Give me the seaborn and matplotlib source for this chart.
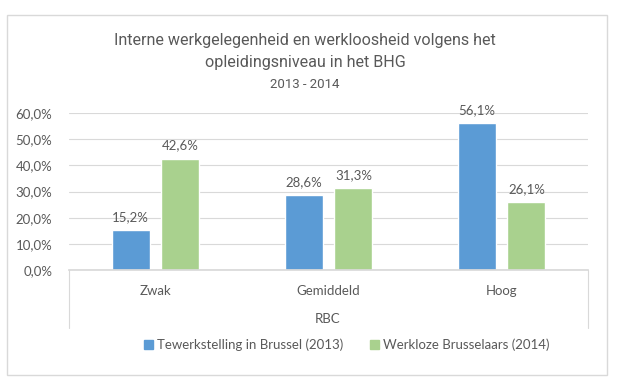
import pandas as pd
import seaborn as sns
import matplotlib.pyplot as plt
from matplotlib import font_manager
from matplotlib.ticker import FuncFormatter
from matplotlib.patches import Rectangle
from matplotlib.lines import Line2D

# data
categories = ["Zwak", "Gemiddeld", "Hoog"]
series = ["Tewerkstelling in Brussel (2013)", "Werkloze Brusselaars (2014)"]
employment_2013 = [0.152, 0.286, 0.561]
unemployed_2014 = [0.426, 0.313, 0.261]
colors = ["#5B9BD5", "#A9D18E"]

df = pd.DataFrame({
    "Opleiding": categories * 2,
    "Reeks": [series[0]] * 3 + [series[1]] * 3,
    "Aandeel": employment_2013 + unemployed_2014,
})

sns.set_theme(style="white")
plt.rcParams["font.family"] = ["Lato", "DejaVu Sans"]
txt = "#595959"
line_col = "#D9D9D9"

# the title uses Arial Narrow in the original; Liberation Sans Narrow if present
names = {f.name for f in font_manager.fontManager.ttflist}
if "Liberation Sans Narrow" in names:
    title_font, t_big, t_small = ["Liberation Sans Narrow", "DejaVu Sans"], 12.8, 10.5
else:
    title_font, t_big, t_small = ["Roboto", "DejaVu Sans"], 11.6, 9.5

W, H = 622, 388
fig = plt.figure(figsize=(W / 100, H / 100), dpi=100)
ax = fig.add_axes([69 / W, 1 - 270 / H, (588 - 69) / W, (270 - 113) / H])

sns.barplot(data=df, x="Opleiding", y="Aandeel", hue="Reeks", palette=colors,
            width=0.578, gap=0.24, ax=ax, legend=False, saturation=1)

pct = lambda v: f"{v * 100:.1f}%".replace(".", ",")
for cont in ax.containers:
    ax.bar_label(cont, labels=[pct(v) for v in cont.datavalues], padding=5,
                 fontsize=9.5, color=txt)

ax.set_ylim(0, 0.6)
ax.set_xlim(-0.5, 2.5)
ax.set_yticks([0, 0.1, 0.2, 0.3, 0.4, 0.5, 0.6])
ax.yaxis.set_major_formatter(FuncFormatter(lambda v, p: pct(v)))
ax.yaxis.grid(True, color=line_col, lw=0.8)
ax.set_axisbelow(True)
for s in ["top", "right", "left"]:
    ax.spines[s].set_visible(False)
ax.spines["bottom"].set_color(line_col)
ax.tick_params(axis="y", length=0, labelsize=9.5, labelcolor=txt, pad=12)
ax.tick_params(axis="x", length=0, labelsize=9.5, labelcolor=txt, pad=11)
ax.set_xlabel("")
ax.set_ylabel("")

# category table lines and group label
for x in [69, 588]:
    fig.add_artist(Line2D([x / W, x / W], [1 - 270 / H, 1 - 328 / H], color=line_col, lw=0.8))
fig.text(328 / W, 1 - 319 / H, "RBC", ha="center", va="center", fontsize=9.5, color=txt)

# chart border
fig.add_artist(Rectangle((7 / W, 1 - 375 / H), (607 - 7) / W, (375 - 15) / H,
                         transform=fig.transFigure, fill=False, ec=line_col, lw=1))

# title
fig.text(305 / W, 1 - 41 / H, "Interne werkgelegenheid en werkloosheid volgens het",
         ha="center", va="center", fontsize=t_big, color=txt, family=title_font)
fig.text(305 / W, 1 - 63 / H, "opleidingsniveau in het BHG",
         ha="center", va="center", fontsize=t_big, color=txt, family=title_font)
fig.text(305 / W, 1 - 84 / H, "2013 - 2014",
         ha="center", va="center", fontsize=t_small, color=txt, family=title_font)

# legend
handles = [Rectangle((0, 0), 1, 1, color=c) for c in colors]
fig.legend(handles, series, loc="center", bbox_to_anchor=(347 / W, 1 - 345 / H),
           ncol=2, frameon=False, fontsize=9.5, labelcolor=txt,
           handlelength=0.7, handleheight=0.7, handletextpad=0.3, columnspacing=2.0)

fig.savefig("out.png", dpi=100)
